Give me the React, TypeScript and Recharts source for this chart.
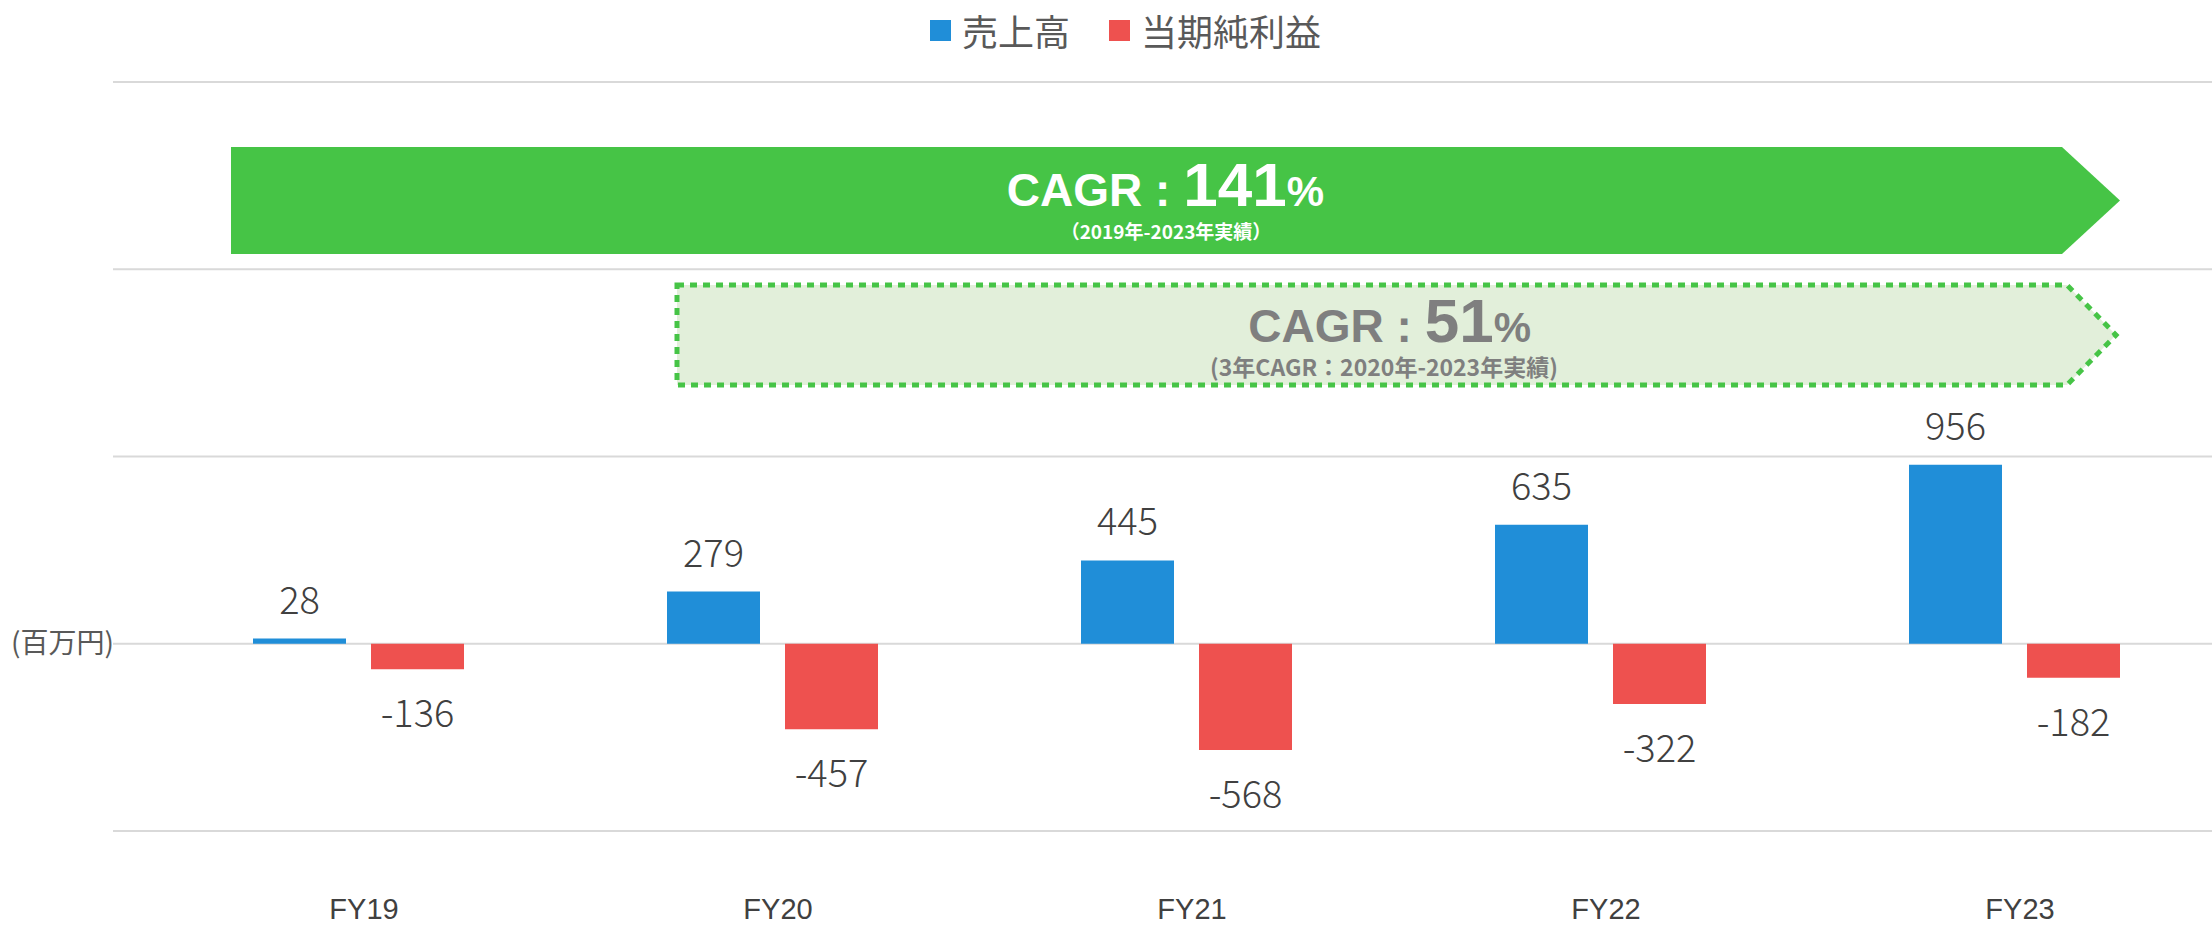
import React from 'react';
import { BarChart, Bar, XAxis, YAxis, CartesianGrid, Legend, LabelList, Customized } from 'recharts';

const categories = ['FY19', 'FY20', 'FY21', 'FY22', 'FY23'];
const sales = [28, 279, 445, 635, 956];
const netIncome = [-136, -457, -568, -322, -182];
const yTicks = [-1000, 0, 1000, 2000, 3000];
const seriesNames = ['売上高', '当期純利益'];
const seriesColors = ['#208ED8', '#EE514F'];

const data = categories.map((c, i) => ({ name: c, sales: sales[i], net: netIncome[i] }));

const JP = '"Noto Sans CJK JP", "Noto Sans", sans-serif';
const LAT = '"Liberation Sans", Arial, sans-serif';

const ValueLabel = (props: any) => {
  const { x, y, width, height, value } = props;
  const top = Math.min(y, y + height);
  const bottom = Math.max(y, y + height);
  const cx = x + width / 2;
  const ty = value >= 0 ? top - 25 : bottom + 58;
  return (
    <text x={cx} y={ty} textAnchor="middle" fill="#404040" fontSize={38} fontWeight={300} fontFamily={JP}>
      {value}
    </text>
  );
};

const XTick = (props: any) => {
  const { x, y, payload } = props;
  return (
    <text x={x + 6} y={y + 80} textAnchor="middle" fill="#404040" fontSize={29} fontFamily={LAT}>
      {payload.value}
    </text>
  );
};

const LegendContent = (props: any) => {
  const payload = props.payload || [];
  return (
    <div style={{ position: 'absolute', left: 930, top: 12, display: 'flex', alignItems: 'center', height: 36 }}>
      {payload.map((p: any, i: number) => (
        <div key={i} style={{ display: 'flex', alignItems: 'center', marginRight: 39 }}>
          <div style={{ width: 21, height: 21, background: p.color }} />
          <span style={{ marginLeft: 11, fontSize: 36, lineHeight: '36px', color: '#595959', fontFamily: JP }}>{p.value}</span>
        </div>
      ))}
    </div>
  );
};

const Annotations = () => (
  <g>
    <text x={11} y={653} fill="#595959" fontSize={28} fontFamily={JP}>(百万円)</text>
    <polygon points="231,147 2062,147 2120,200.5 2062,254 231,254" fill="#46C446" />
    <text x={1324} y={206} textAnchor="end" fill="#FFFFFF" fontWeight="bold" fontFamily={LAT}>
      <tspan fontSize={46}>CAGR : </tspan>
      <tspan fontSize={62}>141</tspan>
      <tspan fontSize={42}>%</tspan>
    </text>
    <text x={1166} y={239} textAnchor="middle" fill="#FFFFFF" fontWeight="bold" fontSize={19} fontFamily={JP}>（2019年-2023年実績）</text>
    <polygon points="677,285 2067,285 2116,335 2067,385 677,385" fill="#E2EFDA" stroke="#46C446" strokeWidth={5} strokeDasharray="7 6" />
    <text x={1531} y={342} textAnchor="end" fill="#7F7F7F" fontWeight="bold" fontFamily={LAT}>
      <tspan fontSize={46}>CAGR : </tspan>
      <tspan fontSize={62}>51</tspan>
      <tspan fontSize={42}>%</tspan>
    </text>
    <text x={1384} y={376} textAnchor="middle" fill="#7F7F7F" fontWeight="bold" fontSize={23} fontFamily={JP}>(3年CAGR：2020年-2023年実績)</text>
  </g>
);

export default function App() {
  return (
    <div style={{ position: 'absolute', left: 0, top: 0, width: 2212, height: 925, background: '#fff' }}>
      <BarChart
        width={2212}
        height={925}
        data={data}
        margin={{ top: 82, right: -9, bottom: 0, left: 113 }}
        barGap={25}
      >
        <CartesianGrid vertical={false} stroke="#D9D9D9" strokeWidth={2} />
        <XAxis
          dataKey="name"
          axisLine={false}
          tickLine={false}
          padding={{ left: 38, right: 0 }}
          height={94}
          tick={<XTick />}
          interval={0}
        />
        <YAxis hide type="number" domain={[-1000, 3000]} ticks={yTicks} />
        <Legend
          verticalAlign="top"
          content={<LegendContent />}
          wrapperStyle={{ position: 'absolute', top: 0, left: 0, width: 2212, height: 0 }}
        />
        <Bar dataKey="sales" name={seriesNames[0]} fill={seriesColors[0]} barSize={93} isAnimationActive={false}>
          <LabelList dataKey="sales" content={<ValueLabel />} />
        </Bar>
        <Bar dataKey="net" name={seriesNames[1]} fill={seriesColors[1]} barSize={93} isAnimationActive={false}>
          <LabelList dataKey="net" content={<ValueLabel />} />
        </Bar>
        <Customized component={<Annotations />} />
      </BarChart>
    </div>
  );
}
